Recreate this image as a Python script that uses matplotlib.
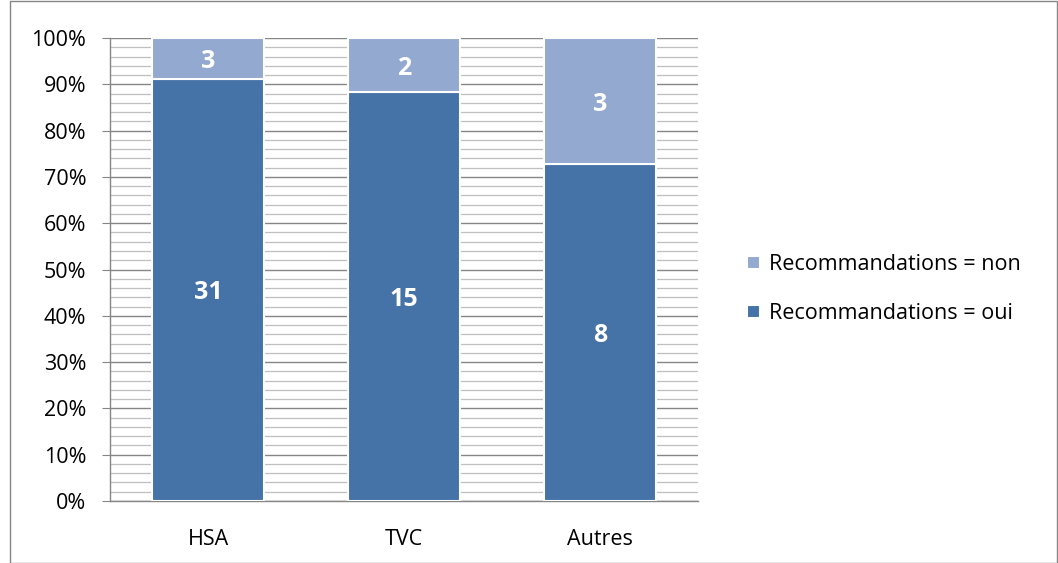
import matplotlib
matplotlib.use("Agg")
import matplotlib.pyplot as plt
import numpy as np
from matplotlib.ticker import MultipleLocator, PercentFormatter
from matplotlib.patches import Rectangle

categories = ["HSA", "TVC", "Autres"]
oui = [31, 15, 8]
non = [3, 2, 3]
labels = ["Recommandations = oui", "Recommandations = non"]

plt.rcParams['font.family'] = ['Open Sans', 'DejaVu Sans']

fig = plt.figure(figsize=(10.58, 5.63), dpi=100)
ax = fig.add_axes([110/1058, 1 - 501/563, 588/1058, 463/563])

oui_a = np.array(oui, dtype=float)
non_a = np.array(non, dtype=float)
tot = oui_a + non_a
p_oui = oui_a / tot * 100
p_non = non_a / tot * 100
x = np.arange(len(categories))
c_oui = "#4572A7"
c_non = "#93A9CF"
w = 0.57
b1 = ax.bar(x, p_oui, w, color=c_oui, edgecolor="white", linewidth=1.5, label=labels[0], zorder=3)
b2 = ax.bar(x, p_non, w, bottom=p_oui, color=c_non, edgecolor="white", linewidth=1.5, label=labels[1], zorder=3)

for i in range(len(categories)):
    ax.text(x[i], p_oui[i] / 2, str(oui[i]), ha="center", va="center_baseline", color="white",
            fontsize=18, fontweight="bold", zorder=4)
    ax.text(x[i], p_oui[i] + p_non[i] / 2, str(non[i]), ha="center", va="center_baseline", color="white",
            fontsize=18, fontweight="bold", zorder=4)

ax.set_xlim(-0.5, len(categories) - 0.5)
ax.set_ylim(0, 100)
ax.yaxis.set_major_locator(MultipleLocator(10))
ax.yaxis.set_minor_locator(MultipleLocator(2))
ax.yaxis.set_major_formatter(PercentFormatter(decimals=0))
ax.grid(which="major", axis="y", color="#868686", linewidth=1.0, zorder=0)
ax.grid(which="minor", axis="y", color="#BFBFBF", linewidth=0.9, zorder=0)
ax.set_axisbelow(True)
ax.set_xticks(x)
ax.set_xticklabels(categories)
ax.tick_params(axis="x", length=0, pad=20, labelsize=15.5)
ax.tick_params(axis="y", which="major", length=6, color="#868686", labelsize=15.5, pad=11)
ax.tick_params(axis="y", which="minor", length=0)
for s in ["top", "right"]:
    ax.spines[s].set_visible(False)
for s in ["left", "bottom"]:
    ax.spines[s].set_color("#868686")
    ax.spines[s].set_linewidth(1.0)

handles = [b2, b1]
leg = fig.legend(handles, [labels[1], labels[0]], loc="center left",
                 bbox_to_anchor=(728/1058, 1 - 289/563), frameon=False,
                 fontsize=15.5, handlelength=0.6, handleheight=0.6, handletextpad=0.4,
                 labelspacing=1.3)

fig.patches.append(Rectangle((10/1058, 0), 1 - 11/1058, 1 - 1/563, transform=fig.transFigure,
                             fill=False, edgecolor="#868686", linewidth=1.0))

fig.savefig("out.png", dpi=100)
